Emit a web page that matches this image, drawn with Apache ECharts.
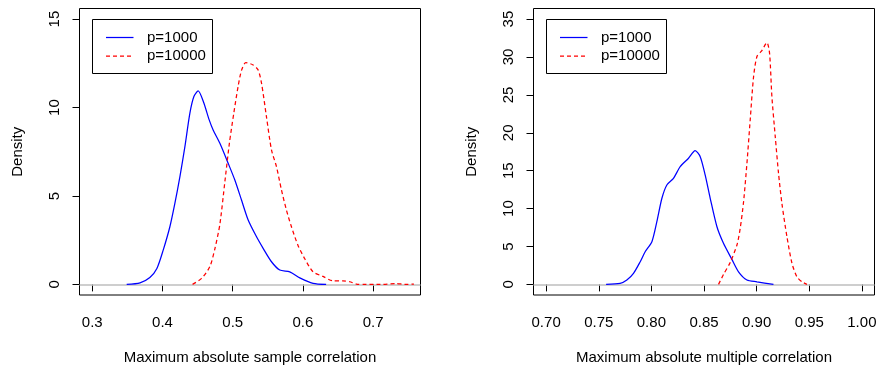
<!DOCTYPE html>
<html>
<head>
<meta charset="utf-8">
<script src="https://cdn.jsdelivr.net/npm/echarts@6/dist/echarts.min.js"></script>
<style>html,body{margin:0;padding:0;background:#fff}#c{width:878px;height:371px}</style>
</head>
<body>
<div id="c"></div>
<script>
// ---- Data ----
const seriesNames = ['p=1000', 'p=10000'];

// Left panel: Maximum absolute sample correlation
const sampleX1000 = [0.349,0.368,0.382,0.392,0.401,0.4105,0.4176,0.4248,0.4319,0.439,0.4447,0.4508,0.4585,0.4665,0.4721,0.4817,0.4935,0.503,0.5125,0.522,0.5339,0.5433,0.5552,0.567,0.5812,0.5955,0.6144,0.633];
const sampleY1000 = [0,0.09,0.39,0.90,1.94,3.26,4.58,6.09,7.79,9.68,10.62,10.94,10.3,9.3,8.73,7.98,6.85,5.9,4.77,3.64,2.69,2.04,1.28,0.81,0.71,0.37,0.06,0];
const sampleX10000 = [0.4428,0.4556,0.4674,0.4745,0.4817,0.4888,0.4953,0.5016,0.5077,0.5125,0.5186,0.529,0.5361,0.541,0.548,0.5552,0.5623,0.5694,0.5765,0.5836,0.593,0.6026,0.6144,0.6286,0.6428,0.657,0.6666,0.676,0.69,0.71,0.733,0.745,0.758];
const sampleY10000 = [0,0.34,1.0,2.0,3.4,5.8,8.0,9.7,11.2,12.1,12.54,12.41,12.13,11.38,9.49,7.60,6.66,5.34,4.2,3.26,2.2,1.45,0.71,0.45,0.2,0.2,0.15,0.02,0,0,0.05,0,0.02];

// Right panel: Maximum absolute multiple correlation
const multX1000 = [0.757,0.7703,0.7767,0.783,0.7894,0.7941,0.8005,0.8052,0.81,0.8147,0.821,0.8274,0.8353,0.8416,0.8464,0.8511,0.8559,0.8623,0.8685,0.8765,0.8828,0.8908,0.9003,0.916];
const multY1000 = [0,0.13,0.57,1.45,2.99,4.31,5.63,8.27,11.36,13.12,14.0,15.53,16.64,17.65,16.85,14.44,11.36,7.6,5.42,3.3,1.66,0.57,0.34,0];
const multX10000 = [0.8638,0.8685,0.8749,0.8813,0.8844,0.8876,0.8908,0.8939,0.8971,0.9003,0.905,0.9098,0.9123,0.9145,0.9177,0.9208,0.924,0.9288,0.9336,0.9383,0.9431,0.9478];
const multY10000 = [0,1.3,2.9,5.2,7.4,10.9,15.98,21.7,27.4,30.06,30.85,31.91,30.5,24.78,19.5,14.66,10.7,6.29,2.77,1.0,0.34,0];

// Ticks
const leftXTicks = [0.3,0.4,0.5,0.6,0.7];
const leftYTicks = [0,5,10,15];
const rightXTicks = [0.70,0.75,0.80,0.85,0.90,0.95,1.00];
const rightYTicks = [0,5,10,15,20,25,30,35];

const leftXTitle = 'Maximum absolute sample correlation';
const rightXTitle = 'Maximum absolute multiple correlation';
const yTitle = 'Density';

// ---- Styles ----
const FONT = '"Liberation Sans", Arial, Helvetica, sans-serif';
const BLUE = '#0000ff', RED = '#ff0000', GRAY = '#bebebe';
const zip = (xs, ys) => xs.map((x, i) => [x, ys[i]]);

function xAxis(gi, min, max, ticks, dec, name) {
  return {
    type: 'value', gridIndex: gi, min: min, max: max,
    name: name, nameLocation: 'middle', nameGap: 55,
    nameTextStyle: { fontSize: 15, color: '#000', fontFamily: FONT },
    axisLine: { show: false }, splitLine: { show: false },
    axisTick: { show: true, customValues: ticks, length: 7, inside: false, lineStyle: { color: '#000', width: 1 } },
    axisLabel: { customValues: ticks, margin: 20, fontSize: 15, color: '#000', fontFamily: FONT,
      formatter: v => v.toFixed(dec) }
  };
}
function yAxis(gi, min, max, ticks, name) {
  return {
    type: 'value', gridIndex: gi, min: min, max: max,
    name: name, nameLocation: 'middle', nameGap: 54, nameRotate: 90,
    nameTextStyle: { fontSize: 15, color: '#000', fontFamily: FONT },
    axisLine: { show: false }, splitLine: { show: false },
    axisTick: { show: true, customValues: ticks, length: 7, inside: false, lineStyle: { color: '#000', width: 1 } },
    axisLabel: { customValues: ticks, margin: 17, rotate: 90, fontSize: 15, color: '#000', fontFamily: FONT,
      formatter: v => String(v) }
  };
}
function curve(name, xi, data, color, dashed, withZero) {
  const s = {
    name: name, type: 'line', xAxisIndex: xi, yAxisIndex: xi, data: data,
    showSymbol: false, symbol: 'none', smooth: 0.25, animation: false, z: 3,
    lineStyle: { color: color, width: 1.25, type: dashed ? [4, 3] : 'solid' }
  };
  if (withZero) {
    s.markLine = { silent: true, symbol: 'none', animation: false, label: { show: false }, z: 1,
      lineStyle: { color: GRAY, type: 'solid', width: 1.5 }, data: [{ yAxis: 0 }] };
  }
  return s;
}
function legend(x, y) {
  return [
    { type: 'rect', shape: { x: x, y: y, width: 120, height: 54 }, style: { fill: '#fff', stroke: '#000', lineWidth: 1 }, z: 10 },
    { type: 'line', shape: { x1: x + 13.5, y1: y + 18, x2: x + 41, y2: y + 18 }, style: { stroke: BLUE, lineWidth: 1.25 }, z: 11 },
    { type: 'line', shape: { x1: x + 13.5, y1: y + 36.5, x2: x + 41, y2: y + 36.5 }, style: { stroke: RED, lineWidth: 1.25, lineDash: [4, 3] }, z: 11 },
    { type: 'text', style: { x: x + 54.5, y: y + 18, text: seriesNames[0], fontSize: 15, fontFamily: FONT, fill: '#000', verticalAlign: 'middle', align: 'left' }, z: 11 },
    { type: 'text', style: { x: x + 54.5, y: y + 36.5, text: seriesNames[1], fontSize: 15, fontFamily: FONT, fill: '#000', verticalAlign: 'middle', align: 'left' }, z: 11 }
  ];
}

const chart = echarts.init(document.getElementById('c'), null, { renderer: 'canvas' });
chart.setOption({
  animation: false,
  backgroundColor: '#fff',
  grid: [
    { left: 79.5, top: 8.5, width: 341, height: 286.5, show: true, borderColor: '#000', borderWidth: 1, backgroundColor: 'transparent', containLabel: false, outerBoundsMode: 'none' },
    { left: 533.5, top: 8.5, width: 341, height: 286.5, show: true, borderColor: '#000', borderWidth: 1, backgroundColor: 'transparent', containLabel: false, outerBoundsMode: 'none' }
  ],
  xAxis: [
    xAxis(0, 0.2818, 0.7674, leftXTicks, 1, leftXTitle),
    xAxis(1, 0.688, 1.012, rightXTicks, 2, rightXTitle)
  ],
  yAxis: [
    yAxis(0, -0.6, 15.6, leftYTicks, yTitle),
    yAxis(1, -1.4, 36.4, rightYTicks, yTitle)
  ],
  series: [
    curve(seriesNames[0], 0, zip(sampleX1000, sampleY1000), BLUE, false, true),
    curve(seriesNames[1], 0, zip(sampleX10000, sampleY10000), RED, true, false),
    curve(seriesNames[0], 1, zip(multX1000, multY1000), BLUE, false, true),
    curve(seriesNames[1], 1, zip(multX10000, multY10000), RED, true, false)
  ],
  graphic: legend(92.5, 19.5).concat(legend(546.5, 19.5))
});
</script>
</body>
</html>
